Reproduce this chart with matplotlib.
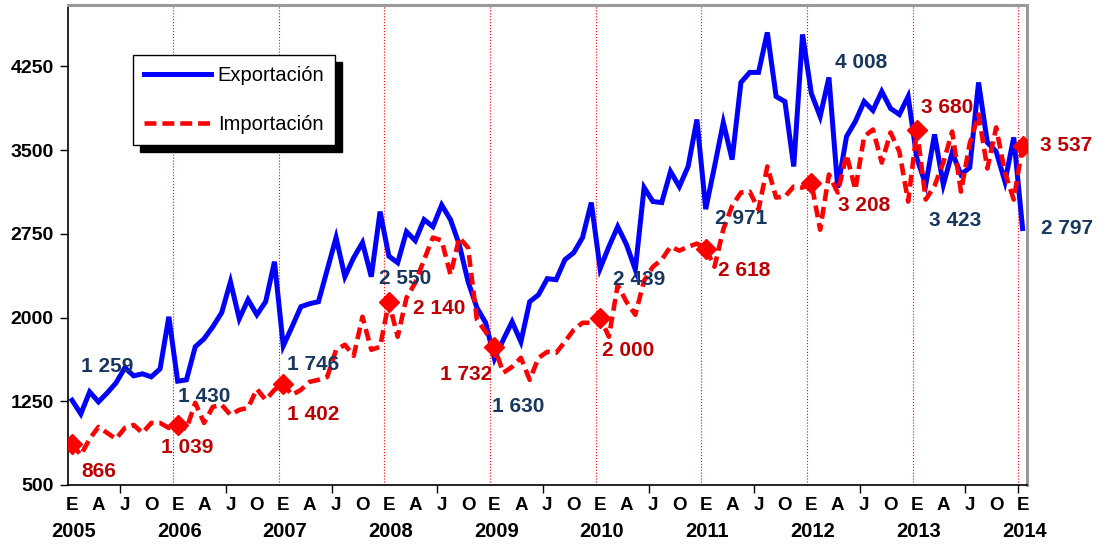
import matplotlib
matplotlib.use("Agg")
import matplotlib.pyplot as plt

plt.rcParams['font.family'] = ['Liberation Sans', 'DejaVu Sans']
NARROW = ['Liberation Sans Narrow', 'Liberation Sans', 'DejaVu Sans']

# monthly values, Jan 2005 .. Jan 2014
exportacion = [
    1259, 1137, 1334, 1245, 1325, 1415, 1550, 1478, 1496, 1469, 1540, 2007,
    1430, 1442, 1738, 1810, 1918, 2043, 2321, 1989, 2160, 2025, 2142, 2500,
    1746, 1918, 2097, 2124, 2142, 2429, 2716, 2366, 2536, 2671, 2366, 2949,
    2550, 2491, 2769, 2689, 2877, 2814, 3008, 2877, 2653, 2321, 2088, 1953,
    1630, 1801, 1962, 1783, 2142, 2204, 2348, 2339, 2518, 2581, 2716, 3030,
    2439, 2635, 2814, 2653, 2430, 3164, 3039, 3030, 3308, 3173, 3353, 3774,
    2971, 3353, 3747, 3415, 4106, 4196, 4196, 4554, 3980, 3935, 3353, 4536,
    4008, 3801, 4151, 3164, 3622, 3756, 3935, 3855, 4025, 3873, 3819, 3980,
    3423, 3191, 3640, 3191, 3478, 3281, 3344, 4106, 3568, 3487, 3218, 3613,
    2797,
]
importacion = [
    866, 769, 913, 1020, 966, 913, 1011, 1038, 966, 1056, 1056, 1011,
    1039, 1002, 1236, 1056, 1200, 1218, 1128, 1173, 1191, 1360, 1262, 1352,
    1402, 1307, 1352, 1424, 1442, 1469, 1711, 1756, 1657, 2007, 1711, 1738,
    2140, 1828, 2177, 2312, 2518, 2716, 2690, 2384, 2716, 2626, 1980, 1872,
    1732, 1505, 1558, 1639, 1442, 1639, 1693, 1684, 1783, 1890, 1953, 1953,
    2000, 1828, 2290, 2140, 2025, 2330, 2455, 2518, 2635, 2599, 2635, 2662,
    2618, 2455, 2790, 3000, 3120, 3128, 2967, 3353, 3075, 3084, 3173, 3164,
    3208, 2787, 3281, 3119, 3460, 3146, 3622, 3684, 3388, 3658, 3487, 3039,
    3680, 3057, 3180, 3388, 3666, 3128, 3560, 3819, 3335, 3703, 3299, 3057,
    3537,
]
years = [str(y) for y in range(2005, 2015)]
month_letters = ["E", "A", "J", "O"]

# label offsets (pixels) for the January values
exp_offsets = [(35, 34), (27, -15), (30, -19), (16, -22), (24, -48),
               (39, -11), (35, -9), (50, 31), (38, -62), (44, 0)]
imp_offsets = [(27, -27), (10, -23), (30, -30), (50, -7), (-28, -27),
               (28, -33), (38, -22), (53, -23), (30, 22), (44, 0)]

x = list(range(len(exportacion)))
jan_idx = list(range(0, len(exportacion), 12))

fig = plt.figure(figsize=(10.98, 5.52), dpi=100)
ax = fig.add_axes([0.0616, 0.1214, 0.8737, 0.8696])

# january separators
for j in jan_idx[1:]:
    ax.axvline(j - 0.5, color="#FF0000", lw=0.8, ls=":", zorder=1)

ax.plot(x, exportacion, color="#0000FF", lw=3.6, solid_joinstyle="miter",
        label="Exportación", zorder=3)
ax.plot(x, importacion, color="#FF0000", lw=3.3, dashes=(2.6, 1.3),
        marker="D", markevery=jan_idx, ms=10, label="Importación", zorder=4)

for k, j in enumerate(jan_idx):
    v = exportacion[j]
    ax.annotate(f"{v:,}".replace(",", " "), (j, v), xytext=exp_offsets[k],
                textcoords="offset pixels", ha="center", va="center",
                fontsize=15, fontweight="bold", color="#17375E", zorder=5)
    v = importacion[j]
    ax.annotate(f"{v:,}".replace(",", " "), (j, v), xytext=imp_offsets[k],
                textcoords="offset pixels", ha="center", va="center",
                fontsize=15, fontweight="bold", color="#C00000", zorder=5)

ax.set_xlim(-0.5, 108.5)
ax.set_ylim(500, 4800)
ax.set_yticks(range(500, 4300, 750))
ax.tick_params(axis="y", direction="out", length=6, width=1, pad=4)
for t in ax.get_yticklabels():
    t.set_family(NARROW)
    t.set_fontsize(14)
    t.set_fontweight("bold")

# major ticks between year groups, letters as minor labels
ax.set_xticks([j + 5.5 for j in jan_idx[:-1]] + [107.5])
ax.set_xticklabels([])
ax.tick_params(axis="x", which="major", direction="out", length=6, width=1)
minor_pos = list(range(0, len(x), 3))
ax.set_xticks(minor_pos, minor=True)
ax.set_xticklabels([month_letters[(p // 3) % 4] for p in minor_pos],
                   minor=True, fontsize=13.5, fontweight="bold")
ax.tick_params(axis="x", which="minor", length=0, pad=9)

for k, j in enumerate(jan_idx):
    ax.text(j + 0.2, -0.097, years[k], transform=ax.get_xaxis_transform(),
            ha="center", va="center", fontsize=14.5, fontweight="bold",
            family=NARROW)

for side in ["left", "bottom"]:
    ax.spines[side].set_color("black")
    ax.spines[side].set_linewidth(1.2)
for side in ["top", "right"]:
    ax.spines[side].set_color("#999999")
    ax.spines[side].set_linewidth(2.2)

leg = ax.legend(loc="upper left", bbox_to_anchor=(0.0682, 0.895),
                borderaxespad=0, fontsize=14.5, handlelength=3.3,
                handletextpad=0.35, labelspacing=1.45, borderpad=0.55,
                fancybox=False, framealpha=1, edgecolor="black",
                shadow={"color": "black", "alpha": 1, "ox": 5, "oy": -5})
leg.get_frame().set_linewidth(1.0)
for h in leg.legend_handles:
    h.set_marker("")

fig.savefig("out.png", dpi=100)
